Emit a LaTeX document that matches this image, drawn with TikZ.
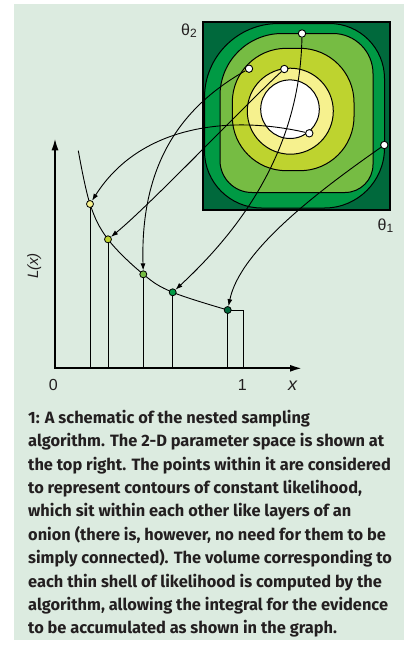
\documentclass[tikz,border=0pt]{standalone}
\usepackage{fontspec}
\setmainfont{Fira Sans}
\newfontfamily\labfont{Liberation Sans}
\usetikzlibrary{arrows.meta}
\definecolor{bgc}{RGB}{220,235,224}
\definecolor{cdark}{HTML}{00693C}
\definecolor{cmed}{HTML}{009A44}
\definecolor{clight}{HTML}{76BC43}
\definecolor{cyg}{HTML}{BED32F}
\definecolor{cpale}{HTML}{F6F18E}
\definecolor{txt}{HTML}{231F20}
\begin{document}
\begin{tikzpicture}[x=1pt,y=-1pt,
  rr/.style n args={8}{insert path={
    ({#1},{#2+#5}) .. controls ({#1},{#2+0.448*#5}) and ({#1+0.448*#5},{#2}) .. ({#1+#5},{#2})
    -- ({#3-#6},{#2}) .. controls ({#3-0.448*#6},{#2}) and ({#3},{#2+0.448*#6}) .. ({#3},{#2+#6})
    -- ({#3},{#4-#7}) .. controls ({#3},{#4-0.448*#7}) and ({#3-0.448*#7},{#4}) .. ({#3-#7},{#4})
    -- ({#1+#8},{#4}) .. controls ({#1+0.448*#8},{#4}) and ({#1},{#4-0.448*#8}) .. ({#1},{#4-#8}) -- cycle}},
  contour/.style={draw=black,line width=1pt},
  pdot/.style={circle,draw=black,fill=white,line width=0.9pt,minimum size=7.4pt,inner sep=0pt},
  gdot/.style={circle,draw=black,line width=0.8pt,minimum size=7pt,inner sep=0pt},
  link/.style={line width=0.9pt,-{Latex[length=7pt,width=5pt]}},
  axisline/.style={line width=1.8pt,{Latex[length=12pt,width=7pt]}-{Latex[length=12pt,width=7pt]}},
  stem/.style={line width=0.9pt},
  lab/.style={font=\labfont\fontsize{16}{16}\selectfont,text=txt,inner sep=0pt},
  captext/.style={font=\bfseries\fontsize{16.4}{16.4}\selectfont,text=txt,anchor=base west,inner sep=0pt}
]
\useasboundingbox (0,0) rectangle (404,649);
\fill[bgc] (14,4) rectangle (404,640);

% parameter space
\fill[cdark] (202.7,21.7) rectangle (390,209.7);
\fill[cmed,contour,rr={204.5}{23.5}{384.5}{208}{74}{55}{60}{57}];
\fill[clight,contour,rr={220}{33.5}{373}{192.5}{62}{40}{28}{32}];
\fill[cyg,contour,rr={232.3}{48.3}{354}{170.7}{54}{54}{54}{54}];
\fill[cpale,contour] (290.3,111.2) circle[radius=43];
\fill[white,contour] (290,109.2) circle[radius=29.3];
\draw[line width=2pt] (202.7,21.7) rectangle (390,209.7);

\node[lab,anchor=base west] (th2) at (181,35.5) {θ\raisebox{-2pt}{\fontsize{12}{12}\selectfont 2}};
\node[lab,anchor=base west] (th1) at (377.5,230) {θ\raisebox{-2pt}{\fontsize{12}{12}\selectfont 1}};

% graph
\coordinate (o) at (55,368.3);
\coordinate (yt) at (55,138.3);
\coordinate (xt) at (302,368.3);
\coordinate (c0) at (78.3,150.7);
\coordinate (cend) at (243.3,310);
\coordinate (q1c) at (90,204);
\coordinate (q2c) at (108,239.3);
\coordinate (q3c) at (143.3,274.3);
\coordinate (q4c) at (172.7,292.3);
\coordinate (q5c) at (227.7,310);

\draw[stem] plot[smooth,tension=0.6] coordinates {(c0) (q1c) (q2c) (q3c) (q4c) (q5c)};
\draw[stem] (q5c) -- (cend) -- (cend |- o);
\foreach \q in {q1c,q2c,q3c,q4c,q5c} \draw[stem] (\q) -- (\q |- o);
\draw[axisline] (yt) -- (o) -- (xt);

\node[lab,anchor=base] (l0) at (53.3,390) {0};
\node[lab,anchor=base] (l1) at (242.3,390) {1};
\node[lab,anchor=base,font=\labfont\itshape\fontsize{18}{18}\selectfont] (lx) at (292.5,390) {x};
\node[lab,rotate=90,font=\labfont\itshape\fontsize{15}{15}\selectfont] (ly) at (34.3,266) {L(x)};

% points
\node[pdot] (p1) at (302,33.5) {};
\node[pdot] (p2) at (249,68.7) {};
\node[pdot] (p3) at (284.3,69) {};
\node[pdot] (p4) at (309.3,133.3) {};
\node[pdot] (p5) at (384.3,145) {};

\node[gdot,fill=cpale] (q1) at (q1c) {};
\node[gdot,fill=cyg] (q2) at (q2c) {};
\node[gdot,fill=clight] (q3) at (q3c) {};
\node[gdot,fill=cmed] (q4) at (q4c) {};
\node[gdot,fill=cdark] (q5) at (q5c) {};

\draw[link] (p4) .. controls (230,115) and (140,125) .. (q1);
\draw[link] (p3) .. controls (250,100) and (150,205) .. (q2);
\draw[link] (p2) .. controls (185,105) and (140,160) .. (q3);
\draw[link] (p1) .. controls (300,150) and (240,230) .. (q4);
\draw[link] (p5) .. controls (320,190) and (240,250) .. (q5);

% caption
\node[captext] (cap1) at (28,423.3) {1: A schematic of the nested sampling};
\node[captext] (cap2) at (28,446.7) {algorithm. The 2-D parameter space is shown at};
\node[captext] (cap3) at (28,470.1) {the top right. The points within it are considered};
\node[captext] (cap4) at (28,493.5) {to represent contours of constant likelihood,};
\node[captext] (cap5) at (28,516.9) {which sit within each other like layers of an};
\node[captext] (cap6) at (28,540.3) {onion (there is, however, no need for them to be};
\node[captext] (cap7) at (28,563.7) {simply connected). The volume corresponding to};
\node[captext] (cap8) at (28,587.1) {each thin shell of likelihood is computed by the};
\node[captext] (cap9) at (28,610.5) {algorithm, allowing the integral for the evidence};
\node[captext] (cap10) at (28,633.9) {to be accumulated as shown in the graph.};
\end{tikzpicture}
\end{document}
